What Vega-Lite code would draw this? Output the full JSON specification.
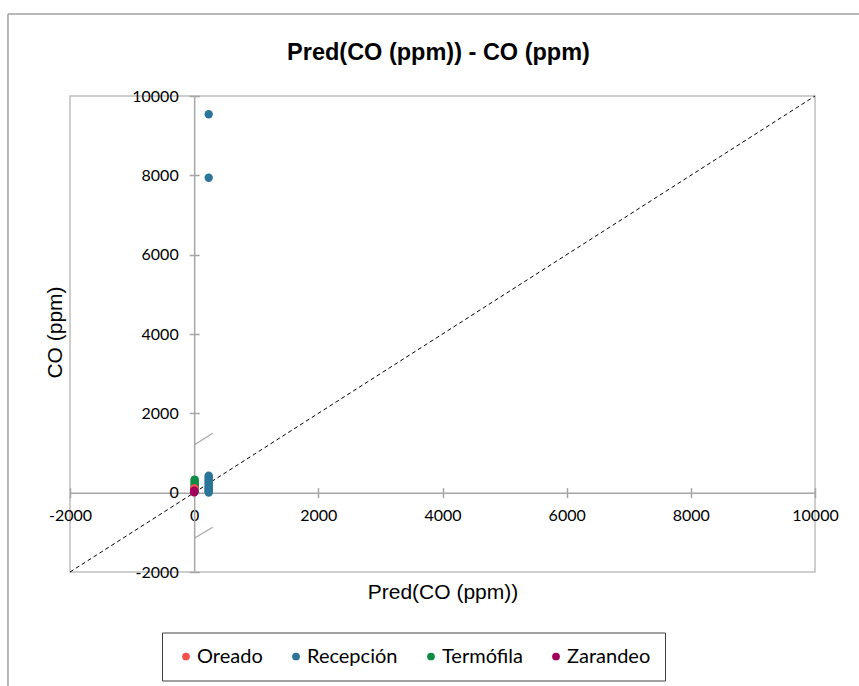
{
  "$schema": "https://vega.github.io/schema/vega-lite/v6.json",
  "width": 745,
  "height": 476,
  "autosize": {"type": "none"},
  "padding": {"left": 70, "top": 96, "right": 44, "bottom": 114},
  "background": "white",
  "title": {"text": "Pred(CO (ppm)) - CO (ppm)", "font": "Liberation Sans", "fontSize": 23.5, "fontWeight": "bold", "color": "#000000", "anchor": "middle", "frame": "group", "offset": -51, "dx": -4},
  "config": {
    "view": {"stroke": "#bfbfbf", "strokeWidth": 1.5},
    "axis": {"grid": false, "domainColor": "#a6a6a6", "domainWidth": 1.5, "tickColor": "#a6a6a6", "tickWidth": 1.5, "tickSize": 5, "labelFont": "Lato", "labelFontSize": 16, "labelColor": "#000000", "labelOverlap": false, "labelFlush": false, "titleFont": "Liberation Sans", "titleFontSize": 21, "titleFontWeight": "normal", "titleColor": "#000000"}
  },
  "datasets": {
    "points": [
      {"grupo": "Recepción", "pred": 234, "co": 9540},
      {"grupo": "Recepción", "pred": 234, "co": 7940},
      {"grupo": "Recepción", "pred": 234, "co": 430},
      {"grupo": "Recepción", "pred": 234, "co": 390},
      {"grupo": "Recepción", "pred": 234, "co": 350},
      {"grupo": "Recepción", "pred": 234, "co": 310},
      {"grupo": "Recepción", "pred": 234, "co": 270},
      {"grupo": "Recepción", "pred": 234, "co": 230},
      {"grupo": "Recepción", "pred": 234, "co": 190},
      {"grupo": "Recepción", "pred": 234, "co": 150},
      {"grupo": "Recepción", "pred": 234, "co": 110},
      {"grupo": "Recepción", "pred": 234, "co": 80},
      {"grupo": "Recepción", "pred": 234, "co": 50},
      {"grupo": "Recepción", "pred": 234, "co": 20},
      {"grupo": "Recepción", "pred": 234, "co": 5},
      {"grupo": "Termófila", "pred": 8, "co": 330},
      {"grupo": "Termófila", "pred": 8, "co": 290},
      {"grupo": "Termófila", "pred": 8, "co": 250},
      {"grupo": "Termófila", "pred": 8, "co": 210},
      {"grupo": "Termófila", "pred": 8, "co": 170},
      {"grupo": "Termófila", "pred": 8, "co": 130},
      {"grupo": "Termófila", "pred": 8, "co": 90},
      {"grupo": "Termófila", "pred": 8, "co": 50},
      {"grupo": "Termófila", "pred": 8, "co": 20},
      {"grupo": "Oreado", "pred": 2, "co": 110},
      {"grupo": "Oreado", "pred": 2, "co": 80},
      {"grupo": "Zarandeo", "pred": 0, "co": 50},
      {"grupo": "Zarandeo", "pred": 0, "co": 30},
      {"grupo": "Zarandeo", "pred": 0, "co": 10}
    ],
    "frame": [
      {"x": -2999, "y": 12067, "x2": 16000, "y2": 12067},
      {"x": -2999, "y": 12067, "x2": -2999, "y2": -9000}
    ],
    "breaks": [
      {"x": 0, "y": 1200, "x2": 298, "y2": 1500},
      {"x": 0, "y": -1150, "x2": 298, "y2": -870}
    ],
    "diag": [
      {"x": -2000, "y": -2000, "x2": 10000, "y2": 10000}
    ]
  },
  "resolve": {"axis": {"x": "independent", "y": "independent"}},
  "layer": [
    {
      "data": {"name": "frame"},
      "mark": {"type": "rule", "color": "#a0a0a0", "strokeWidth": 1.5, "clip": false},
      "encoding": {
        "x": {"field": "x", "type": "quantitative", "scale": {"domain": [-2000, 10000], "nice": false, "zero": false}, "axis": null},
        "y": {"field": "y", "type": "quantitative", "scale": {"domain": [-2000, 10000], "nice": false, "zero": false}, "axis": null},
        "x2": {"field": "x2"},
        "y2": {"field": "y2"}
      }
    },
    {
      "data": {"name": "breaks"},
      "mark": {"type": "rule", "color": "#a6a6a6", "strokeWidth": 1.2},
      "encoding": {
        "x": {"field": "x", "type": "quantitative", "scale": {"domain": [-2000, 10000], "nice": false, "zero": false}, "axis": null},
        "y": {"field": "y", "type": "quantitative", "scale": {"domain": [-2000, 10000], "nice": false, "zero": false}, "axis": null},
        "x2": {"field": "x2"},
        "y2": {"field": "y2"}
      }
    },
    {
      "data": {"name": "diag"},
      "mark": {"type": "rule", "color": "#000000", "strokeWidth": 1, "strokeDash": [4, 3]},
      "encoding": {
        "x": {"field": "x", "type": "quantitative", "scale": {"domain": [-2000, 10000], "nice": false, "zero": false},
          "axis": {"orient": "top", "offset": -396.67, "labels": false, "domain": false, "title": null, "values": [-2000, 0, 2000, 4000, 6000, 8000, 10000]}},
        "y": {"field": "y", "type": "quantitative", "scale": {"domain": [-2000, 10000], "nice": false, "zero": false},
          "axis": {"orient": "right", "offset": -620.83, "labels": false, "domain": false, "title": null, "values": [-2000, 0, 2000, 4000, 6000, 8000, 10000]}},
        "x2": {"field": "x2"},
        "y2": {"field": "y2"}
      }
    },
    {
      "data": {"name": "points"},
      "mark": {"type": "circle", "size": 70, "opacity": 1},
      "encoding": {
        "x": {"field": "pred", "type": "quantitative", "scale": {"domain": [-2000, 10000], "nice": false, "zero": false},
          "axis": {"orient": "bottom", "offset": -79.33, "values": [-2000, 0, 2000, 4000, 6000, 8000, 10000], "labelExpr": "'' + datum.value", "labelPadding": 10, "title": "Pred(CO (ppm))", "titleX": 372.5, "titleY": 105.6, "titleBaseline": "alphabetic", "titleAnchor": "middle"}},
        "y": {"field": "co", "type": "quantitative", "scale": {"domain": [-2000, 10000], "nice": false, "zero": false},
          "axis": {"orient": "left", "offset": -124.17, "values": [-2000, 0, 2000, 4000, 6000, 8000, 10000], "labelExpr": "'' + datum.value", "labelPadding": 11, "title": "CO (ppm)", "titleX": -132.5, "titleY": 236, "titleBaseline": "alphabetic", "titleAngle": -90, "titleAnchor": "middle"}},
        "color": {"field": "grupo", "type": "nominal",
          "scale": {"domain": ["Oreado", "Recepción", "Termófila", "Zarandeo"], "range": ["#f8514b", "#2b7598", "#0e8c45", "#a0005b"]},
          "legend": {"orient": "none", "legendX": 92, "legendY": 536.5, "direction": "horizontal", "title": null, "padding": 14, "strokeColor": "#404040", "labelFont": "Lato", "labelFontSize": 20, "labelColor": "#000000", "labelOffset": 1, "columnPadding": 23, "symbolType": "circle", "symbolSize": 60, "symbolStrokeWidth": 0, "symbolOpacity": 1}
        }
      }
    }
  ]
}
